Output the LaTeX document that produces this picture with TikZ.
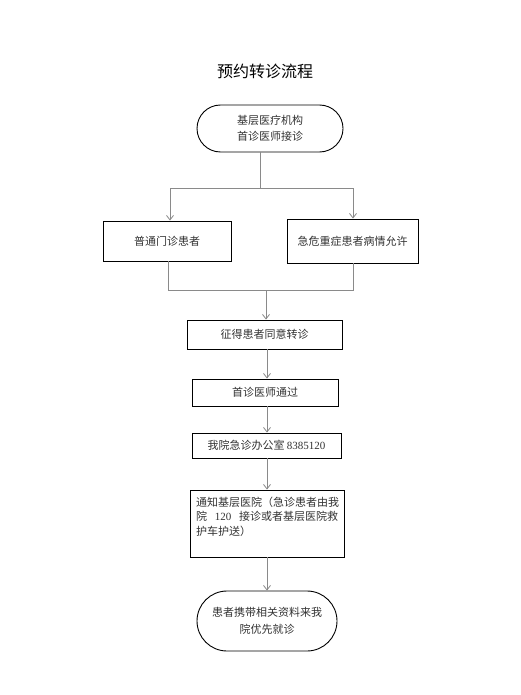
\documentclass[tikz,border=0pt]{standalone}
\usepackage{fontspec}
\setmainfont{Liberation Serif}
\newfontfamily\cjk{Noto Sans CJK SC}
\usetikzlibrary{arrows.meta,shapes.misc}
\definecolor{linegray}{HTML}{8A8A8A}
\definecolor{txt}{HTML}{333333}
\tikzset{
  boxnode/.style={draw=black, line width=0.9pt, rectangle, inner sep=0pt, align=center,
    text=txt, font=\fontsize{11}{16}\selectfont\cjk},
  stad/.style={draw=black, line width=0.9pt, rounded rectangle, inner sep=0pt, align=center,
    text=txt, font=\fontsize{11}{16}\selectfont\cjk},
  conn/.style={draw=linegray, line width=0.8pt},
  arr/.style={-{Straight Barb[length=4.5pt,width=7pt]}},
}
\begin{document}
\begin{tikzpicture}[x=1pt,y=-1pt]
\useasboundingbox[fill=white] (0,0) rectangle (520,695);
\node[font=\fontsize{16}{18}\selectfont\cjk, text=black] (title) at (265,71) {预约转诊流程};
\node[stad, minimum width=146, minimum height=47] (start) at (270,128.5) {基层医疗机构\\首诊医师接诊};
\node[boxnode, minimum width=128, minimum height=40] (left) at (167,241) {普通门诊患者};
\node[boxnode, minimum width=131, minimum height=44] (right) at (352.5,241) {急危重症患者病情允许};
\node[boxnode, minimum width=155, minimum height=29] (consent) at (264.5,334.5) {征得患者同意转诊};
\node[boxnode, minimum width=146, minimum height=27] (pass) at (265,392.5) {首诊医师通过};
\node[boxnode, minimum width=149, minimum height=25] (office) at (266.5,445.5) {我院急诊办公室 {\rmfamily 8385120}};
\node[boxnode, minimum width=154, minimum height=67, text width=142, align=left,
  font=\fontsize{11}{14.5}\selectfont\cjk] (notify) at (267,523.5)
  {通知基层医院（急诊患者由我\\院\hfill{\rmfamily 120}\hfill 接诊或者基层医院救\\护车护送）\\\mbox{}};
\node[stad, minimum width=140, minimum height=60, font=\fontsize{11}{17}\selectfont\cjk] (finish) at (267,621) {患者携带相关资料来我\\院优先就诊};
% split
\coordinate (s1) at (260,188);
\coordinate (sl) at (170,188);
\coordinate (sr) at (353,188);
\draw[conn] (start.south -| s1) -- (s1);
\draw[conn] (sl) -- (sr);
\draw[conn,arr] (sl) -- (sl |- left.north);
\draw[conn,arr] (sr) -- (sr |- right.north);
% join
\coordinate (jl) at (168,290);
\coordinate (jr) at (353,290);
\coordinate (jc) at (266,290);
\draw[conn] (left.south -| jl) -- (jl) -- (jr) -- (right.south -| jr);
\draw[conn,arr] (jc) -- (jc |- consent.north);
% chain
\coordinate (ax) at (267,0);
\draw[conn,arr] (consent.south -| ax) -- (ax |- pass.north);
\draw[conn,arr] (pass.south -| ax) -- (ax |- office.north);
\draw[conn,arr] (office.south -| ax) -- (ax |- notify.north);
\draw[conn,arr] (notify.south -| ax) -- (ax |- finish.north);
\end{tikzpicture}
\end{document}
